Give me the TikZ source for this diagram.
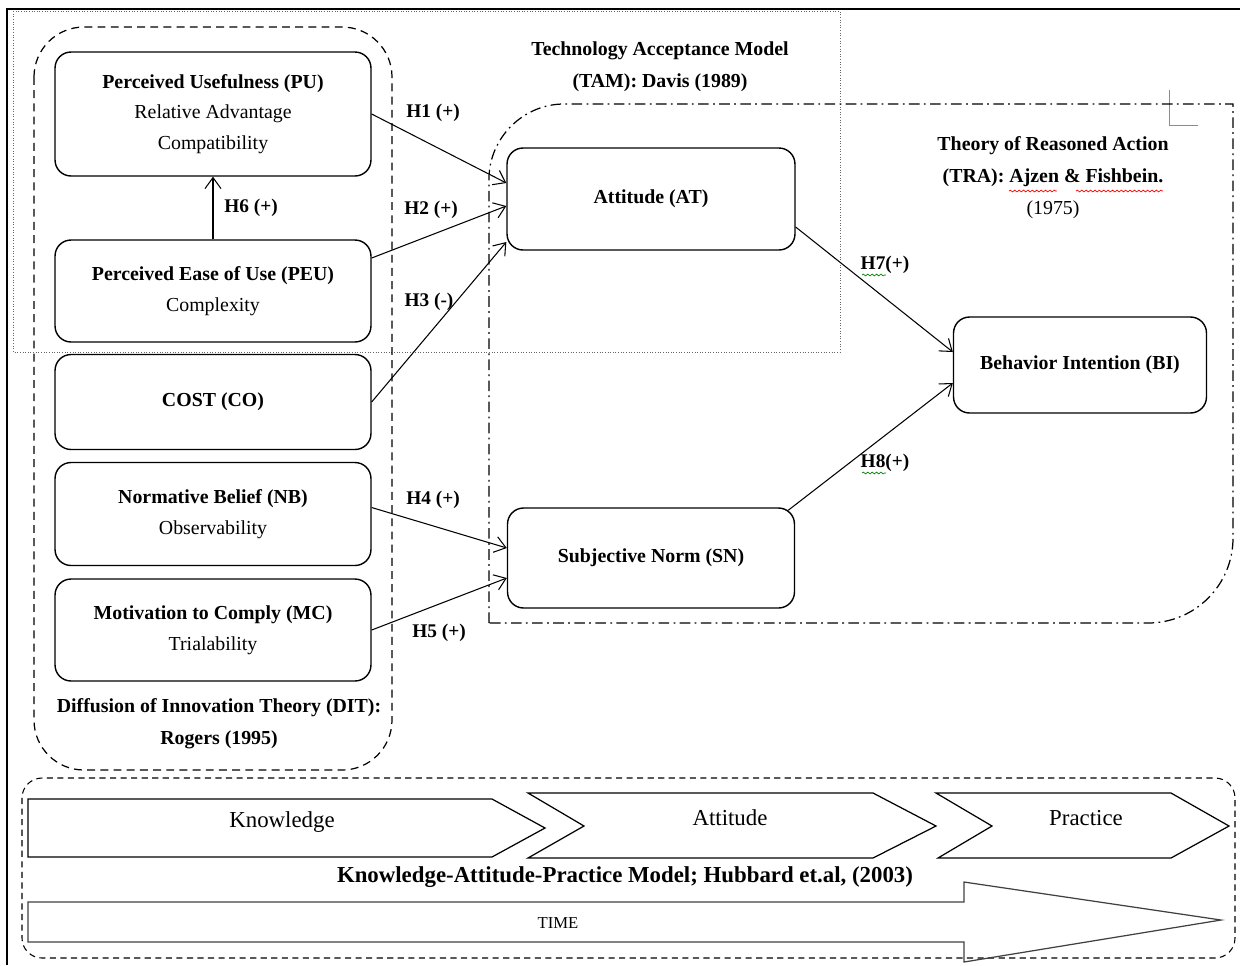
\documentclass[tikz,border=0pt]{standalone}
\usepackage{fontspec}
\setmainfont{Liberation Serif}
\usetikzlibrary{arrows.meta,decorations.pathmorphing}

\begin{document}
\begin{tikzpicture}[x=0.02cm,y=-0.02cm,>={Straight Barb[length=2.2mm,width=3.2mm]},
  box/.style={draw,line width=0.8pt,rounded corners=0.32cm,align=center,
    font=\fontsize{11.3}{17.5}\selectfont,inner sep=0pt},
  link/.style={->,line width=0.6pt},
  hyp/.style={font=\bfseries\fontsize{11}{13}\selectfont,inner sep=1pt},
  title/.style={align=center,font=\bfseries\fontsize{11.3}{18.2}\selectfont},
  dit/.style={line width=0.7pt,dash pattern=on 4.5pt off 3pt},
  tra/.style={line width=0.7pt,dash pattern=on 6pt off 2.5pt on 1pt off 2.5pt},
  tam/.style={black!60,line width=0.5pt,densely dotted},
  kap/.style={line width=0.6pt,dash pattern=on 3.5pt off 2.5pt},
  stage/.style={line width=0.7pt},
  stagetext/.style={font=\fontsize{13}{15}\selectfont},
  spell/.style={decorate,decoration={snake,amplitude=0.5pt,segment length=2.5pt},line width=0.4pt}]
  \useasboundingbox (0,0) rectangle (1240,965);

  % page frame and margin mark
  \draw[line width=0.6pt] (7,965) -- (7,9) -- (1240,9);
  \draw[black!45,line width=0.4pt] (1169,90) -- (1169,125) -- (1198,125);

  % theory regions
  \draw[tam] (13,11) rectangle (840,352);
  \draw[dit,rounded corners=1cm] (34,27) rectangle (392,770);
  \draw[tra] (489,623) -- (489,179) .. controls (489,138) and (523,104) .. (564,104)
    -- (1233,104) -- (1233,538) .. controls (1233,585) and (1195,623) .. (1148,623) -- cycle;
  \node[title] (tamlbl) at (660,67) {Technology Acceptance Model\\(TAM): Davis (1989)};
  \node[title] (tralbl) at (1053,178) {Theory of Reasoned Action\\(TRA): Ajzen \& Fishbein.\\\mdseries(1975)};
  \node[title] (ditlbl) at (219,724) {Diffusion of Innovation Theory (DIT):\\Rogers (1995)};
  \draw[red,spell] (1009,191) -- (1057,191);
  \draw[red,spell] (1076,191) -- (1163,191);

  % constructs
  \node[box,minimum width=6.32cm,minimum height=2.48cm] (pu) at (213,114)
    {\textbf{Perceived Usefulness (PU)}\\Relative Advantage\\Compatibility};
  \node[box,minimum width=6.32cm,minimum height=2.04cm] (peu) at (213,291)
    {\textbf{Perceived Ease of Use (PEU)}\\Complexity};
  \node[box,minimum width=6.32cm,minimum height=1.9cm] (cost) at (213,402)
    {\textbf{COST (CO)}};
  \node[box,minimum width=6.32cm,minimum height=2.06cm] (nb) at (213,514)
    {\textbf{Normative Belief (NB)}\\Observability};
  \node[box,minimum width=6.32cm,minimum height=2.04cm] (mc) at (213,630)
    {\textbf{Motivation to Comply (MC)}\\Trialability};
  \node[box,minimum width=5.76cm,minimum height=2.04cm] (at) at (651,199)
    {\textbf{Attitude (AT)}};
  \node[box,minimum width=5.74cm,minimum height=2cm] (sn) at (651,558)
    {\textbf{Subjective Norm (SN)}};
  \node[box,minimum width=5.06cm,minimum height=1.92cm] (bi) at (1080,365)
    {\textbf{Behavior Intention (BI)}};

  % hypotheses
  \draw[link] (pu.east) -- ([yshift=0.32cm]at.west);
  \draw[link] ([yshift=0.66cm]peu.east) -- ([yshift=-0.14cm]at.west);
  \draw[link] (cost.east) -- ([yshift=-0.86cm]at.west);
  \draw[link] (peu.north) -- (pu.south);
  \draw[link] ([yshift=0.13cm]nb.east) -- ([yshift=0.2cm]sn.west);
  \draw[link] (mc.east) -- ([yshift=-0.4cm]sn.west);
  \draw[link] ([yshift=-0.56cm]at.east) -- ([yshift=0.26cm]bi.west);
  \draw[link] ([xshift=-0.14cm,yshift=-0.06cm]sn.north east) -- ([yshift=-0.36cm]bi.west);
  \node[hyp] (h1) at (433,113) {H1 (+)};
  \node[hyp] (h2) at (431,210) {H2 (+)};
  \node[hyp] (h3) at (429,302) {H3 (-)};
  \node[hyp] (h6) at (251,208) {H6 (+)};
  \node[hyp] (h4) at (433,500) {H4 (+)};
  \node[hyp] (h5) at (439,633) {H5 (+)};
  \node[hyp] (h7) at (885,265) {H7(+)};
  \node[hyp] (h8) at (885,463) {H8(+)};
  \draw[green!50!black,spell] (862,275) -- (886,275);
  \draw[green!50!black,spell] (862,473) -- (886,473);

  % knowledge-attitude-practice
  \draw[kap,rounded corners=0.4cm] (22,778) rectangle (1235,958);
  \draw[stage] (28,799) -- (492,799) -- (545,828) -- (492,857) -- (28,857) -- cycle;
  \draw[stage] (528,793) -- (873,793) -- (936,826) -- (873,858) -- (528,858) -- (584,826) -- cycle;
  \draw[stage] (936,793) -- (1171,793) -- (1229,826) -- (1171,858) -- (938,858) -- (992,826) -- cycle;
  \node[stagetext] (know) at (282,822) {Knowledge};
  \node[stagetext] (atti) at (730,818) {Attitude};
  \node[stagetext] (prac) at (1086,818) {Practice};
  \node[font=\bfseries\fontsize{13}{15}\selectfont] (kaplbl) at (625,877)
    {Knowledge-Attitude-Practice Model; Hubbard et.al, (2003)};
  \draw[stage,black!75] (28,902) -- (964,902) -- (964,882) -- (1221,920) -- (964,962)
    -- (964,942) -- (28,942) -- cycle;
  \node[font=\fontsize{9.5}{11}\selectfont] (time) at (558,923) {TIME};
\end{tikzpicture}
\end{document}
